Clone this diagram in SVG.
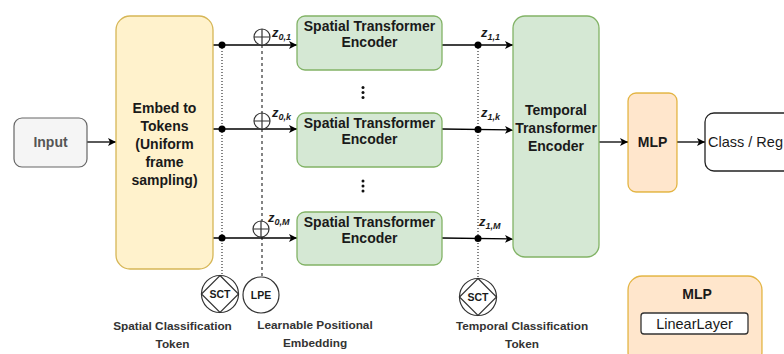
<svg xmlns="http://www.w3.org/2000/svg" width="784" height="354" viewBox="0 0 784 354">
<defs>
<marker id="arr" markerWidth="10" markerHeight="10" refX="8" refY="5" orient="auto" markerUnits="userSpaceOnUse">
<path d="M0,1 L8,5 L0,9 L2,5 Z" fill="#000"/>
</marker>
<style>
text{font-family:"Liberation Sans",Arial,sans-serif;fill:#1a1a1a}
.b{font-weight:bold;font-size:14px}
.lbl{font-weight:bold;font-size:11.8px;fill:#333}
.z{font-weight:bold;font-style:italic;font-size:13px}
.sub{font-weight:bold;font-style:italic;font-size:9px}
.edge{stroke:#000;stroke-width:1.3;fill:none}
.dot{stroke:#333;stroke-width:1.2;stroke-dasharray:1 2;fill:none}
.dash{stroke:#333;stroke-width:1.2;stroke-dasharray:3 3;fill:none}
.green{fill:#d5e8d4;stroke:#82b366;stroke-width:1.3}
</style>
</defs>
<rect width="784" height="354" fill="#fff"/>

<g id="connectors">
<line class="dot" x1="222" y1="45" x2="222" y2="276"/>
<line class="dash" x1="262" y1="45" x2="262" y2="277"/>
<line class="dot" x1="478" y1="45" x2="478" y2="279"/>
<line class="edge" x1="87" y1="142" x2="116" y2="142" marker-end="url(#arr)"/>
<line class="edge" x1="213" y1="45" x2="297" y2="45" marker-end="url(#arr)"/>
<line class="edge" x1="213" y1="129" x2="297" y2="129" marker-end="url(#arr)"/>
<line class="edge" x1="213" y1="238" x2="297" y2="238" marker-end="url(#arr)"/>
<line class="edge" x1="442" y1="45" x2="513" y2="45" marker-end="url(#arr)"/>
<line class="edge" x1="442" y1="129" x2="513" y2="130" marker-end="url(#arr)"/>
<line class="edge" x1="442" y1="238" x2="513" y2="239" marker-end="url(#arr)"/>
<line class="edge" x1="599" y1="142" x2="628" y2="142" marker-end="url(#arr)"/>
<line class="edge" x1="677" y1="142" x2="705" y2="142" marker-end="url(#arr)"/>
<circle cx="222" cy="45" r="3.5" fill="#000"/>
<circle cx="222" cy="129" r="3.5" fill="#000"/>
<circle cx="222" cy="238" r="3.5" fill="#000"/>
<circle cx="478" cy="45" r="3.5" fill="#000"/>
<circle cx="478" cy="129.5" r="3.5" fill="#000"/>
<circle cx="478" cy="238.5" r="3.5" fill="#000"/>
</g>

<g id="plus1"><circle cx="262" cy="37" r="8" fill="#fff" stroke="#333" stroke-width="1.2"/><path d="M254,37 H270 M262,29 V45" stroke="#333" stroke-width="1.2"/></g>
<g id="plus2"><circle cx="262" cy="121" r="8" fill="#fff" stroke="#333" stroke-width="1.2"/><path d="M254,121 H270 M262,113 V129" stroke="#333" stroke-width="1.2"/></g>
<g id="plus3"><circle cx="261" cy="229" r="8" fill="#fff" stroke="#333" stroke-width="1.2"/><path d="M253,229 H269 M261,221 V237" stroke="#333" stroke-width="1.2"/></g>

<g id="zlabels">
<text x="272" y="37" class="z">z<tspan class="sub" dy="3">0,1</tspan></text>
<text x="272" y="117" class="z">z<tspan class="sub" dy="3">0,k</tspan></text>
<text x="268" y="222" class="z">z<tspan class="sub" dy="3">0,M</tspan></text>
<text x="481" y="37" class="z">z<tspan class="sub" dy="3">1,1</tspan></text>
<text x="481" y="117" class="z">z<tspan class="sub" dy="3">1,k</tspan></text>
<text x="479" y="226" class="z">z<tspan class="sub" dy="3">1,M</tspan></text>
</g>

<g id="input">
<rect x="14" y="118" width="73" height="49" rx="8" fill="#f5f5f5" stroke="#666" stroke-width="1.2"/>
<text x="50.5" y="147" text-anchor="middle" class="b" style="fill:#555">Input</text>
</g>

<g id="embed">
<rect x="116" y="16" width="97" height="253" rx="14" fill="#fff2cc" stroke="#d6b656" stroke-width="1.3"/>
<text text-anchor="middle" class="b"><tspan x="164.5" y="113">Embed to</tspan><tspan x="164.5" y="131">Tokens</tspan><tspan x="164.5" y="149">(Uniform</tspan><tspan x="164.5" y="167">frame</tspan><tspan x="164.5" y="185">sampling)</tspan></text>
</g>

<g id="spatial1">
<rect x="297" y="16" width="145" height="54" rx="8" class="green"/>
<text text-anchor="middle" class="b"><tspan x="369.5" y="31">Spatial Transformer</tspan><tspan x="369.5" y="47">Encoder</tspan></text>
</g>
<g id="spatial2">
<rect x="297" y="113" width="145" height="54" rx="8" class="green"/>
<text text-anchor="middle" class="b"><tspan x="369.5" y="128">Spatial Transformer</tspan><tspan x="369.5" y="144">Encoder</tspan></text>
</g>
<g id="spatial3">
<rect x="297" y="212" width="145" height="53" rx="8" class="green"/>
<text text-anchor="middle" class="b"><tspan x="369.5" y="227">Spatial Transformer</tspan><tspan x="369.5" y="243">Encoder</tspan></text>
</g>

<g id="vdots" fill="#111">
<circle cx="363" cy="87.5" r="1.5"/><circle cx="363" cy="92.5" r="1.5"/><circle cx="363" cy="97.5" r="1.5"/>
<circle cx="363" cy="181" r="1.5"/><circle cx="363" cy="186" r="1.5"/><circle cx="363" cy="191" r="1.5"/>
</g>

<g id="temporal">
<rect x="513" y="16" width="86" height="241" rx="12" class="green"/>
<text text-anchor="middle" class="b"><tspan x="556" y="115">Temporal</tspan><tspan x="556" y="133">Transformer</tspan><tspan x="556" y="151">Encoder</tspan></text>
</g>

<g id="mlp">
<rect x="628" y="93" width="49" height="99" rx="8" fill="#ffe6cc" stroke="#d79b00" stroke-width="1.3" stroke-opacity="0.7"/>
<text x="652.5" y="147" text-anchor="middle" class="b">MLP</text>
</g>

<g id="classreg">
<rect x="705" y="113" width="110" height="58" rx="9" fill="#fff" stroke="#222" stroke-width="1.3"/>
<text x="708" y="147" style="font-size:14.5px">Class / Reg</text>
</g>

<g id="sct1">
<circle cx="220" cy="294" r="18.5" fill="#fff" stroke="#333" stroke-width="1.2"/>
<path d="M220,275.5 L238.5,294 L220,312.5 L201.5,294 Z" fill="none" stroke="#333" stroke-width="1.2"/>
<text x="220" y="298" text-anchor="middle" style="font-size:10.5px;font-weight:bold">SCT</text>
</g>
<g id="lpe">
<circle cx="261" cy="295" r="18" fill="#fff" stroke="#333" stroke-width="1.2"/>
<text x="261" y="299" text-anchor="middle" style="font-size:10.5px;font-weight:bold">LPE</text>
</g>
<g id="sct2">
<circle cx="478" cy="297" r="18.5" fill="#fff" stroke="#333" stroke-width="1.2"/>
<path d="M478,278.5 L496.5,297 L478,315.5 L459.5,297 Z" fill="none" stroke="#333" stroke-width="1.2"/>
<text x="478" y="301" text-anchor="middle" style="font-size:10.5px;font-weight:bold">SCT</text>
</g>

<g id="labels">
<text text-anchor="middle" class="lbl"><tspan x="172.5" y="330">Spatial Classification</tspan><tspan x="172.5" y="348">Token</tspan></text>
<text text-anchor="middle" class="lbl"><tspan x="315" y="329">Learnable Positional</tspan><tspan x="315" y="347">Embedding</tspan></text>
<text text-anchor="middle" class="lbl"><tspan x="522" y="330">Temporal Classification</tspan><tspan x="522" y="348">Token</tspan></text>
</g>

<g id="legend">
<rect x="628" y="276" width="134" height="90" rx="14" fill="#ffe6cc" stroke="#d79b00" stroke-width="1.3" stroke-opacity="0.7"/>
<text x="697" y="299" text-anchor="middle" style="font-size:14px;font-weight:bold">MLP</text>
<rect x="641" y="313" width="107" height="21" rx="3" fill="#fff" stroke="#333" stroke-width="1.3"/>
<text x="694.5" y="328.5" text-anchor="middle" style="font-size:14.5px">LinearLayer</text>
</g>
</svg>
